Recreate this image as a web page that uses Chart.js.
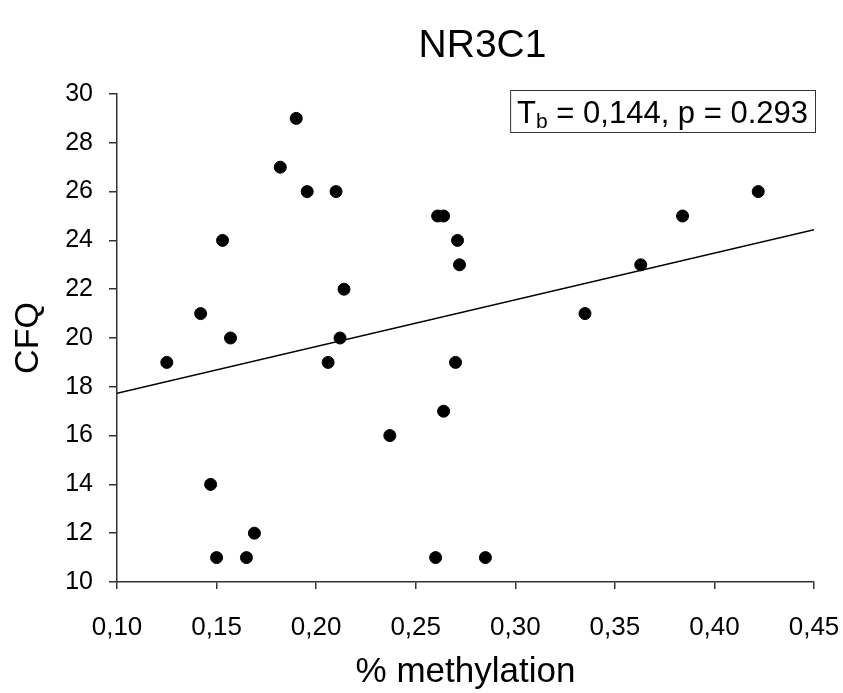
<!DOCTYPE html>
<html>
<head>
<meta charset="utf-8">
<script src="https://cdn.jsdelivr.net/npm/chart.js@4.4.1/dist/chart.umd.min.js"></script>
<style>
  html, body { margin: 0; padding: 0; background: #fff; }
  #wrap { width: 843px; height: 693px; position: relative; }
</style>
</head>
<body>
<div id="wrap"><canvas id="chart"></canvas></div>
<script>
// values
const methylation = [0.190, 0.182, 0.1955, 0.210, 0.261, 0.264, 0.153, 0.271, 0.272, 0.214,
                     0.142, 0.157, 0.212, 0.422, 0.384, 0.363, 0.335, 0.125, 0.206, 0.270,
                     0.264, 0.237, 0.147, 0.169, 0.150, 0.165, 0.260, 0.285];
const cfq = [29, 27, 26, 26, 25, 25, 24, 24, 23, 22,
             21, 20, 20, 26, 25, 23, 21, 19, 19, 19,
             17, 16, 14, 12, 11, 11, 11, 11];

// fitted line end points
const trendX = [0.10, 0.45];
const trendY = [17.73, 24.44];

const chartTitle = 'NR3C1';
const xTitle = '% methylation';
const yTitle = 'CFQ';
const statText = ['T', 'b', ' = 0,144, p = 0.293'];

const FONT = '"Liberation Sans", Arial, sans-serif';

const points = methylation.map((x, i) => ({ x: x, y: cfq[i] }));
const trend = trendX.map((x, i) => ({ x: x, y: trendY[i] }));

// title and stats box drawn by hand
const extras = {
  id: 'extras',
  afterDraw(chart) {
    const ctx = chart.ctx;
    const area = chart.chartArea;
    ctx.save();
    ctx.fillStyle = '#000';
    ctx.textBaseline = 'alphabetic';

    // title
    ctx.font = '39px ' + FONT;
    ctx.textAlign = 'center';
    ctx.fillText(chartTitle, (area.left + area.right) / 2 + 17, 57);

    // stats box
    ctx.textAlign = 'left';
    const big = '31px ' + FONT;
    const small = '21px ' + FONT;
    ctx.font = big;
    const w1 = ctx.measureText(statText[0]).width;
    const w3 = ctx.measureText(statText[2]).width;
    ctx.font = small;
    const w2 = ctx.measureText(statText[1]).width;
    const padX = 7;
    const boxW = w1 + w2 + w3 + padX * 2;
    const boxR = area.right + 1;
    const boxL = boxR - boxW;
    const boxT = 90, boxH = 42;
    ctx.fillStyle = '#fff';
    ctx.fillRect(boxL, boxT, boxW, boxH);
    ctx.strokeStyle = '#333';
    ctx.lineWidth = 1;
    ctx.strokeRect(boxL + 0.5, boxT + 0.5, boxW, boxH);
    ctx.fillStyle = '#000';
    const base = boxT + 33;
    ctx.font = big;
    ctx.fillText(statText[0], boxL + padX, base);
    ctx.font = small;
    ctx.fillText(statText[1], boxL + padX + w1, base + 5);
    ctx.font = big;
    ctx.fillText(statText[2], boxL + padX + w1 + w2, base);
    ctx.restore();
  }
};

new Chart(document.getElementById('chart'), {
  type: 'scatter',
  data: {
    datasets: [
      {
        label: 'CFQ',
        data: points,
        backgroundColor: '#000',
        borderColor: '#000',
        pointRadius: 6,
        pointHoverRadius: 6
      },
      {
        label: 'trend',
        data: trend,
        showLine: true,
        borderColor: '#000',
        borderWidth: 1.5,
        pointRadius: 0,
        fill: false
      }
    ]
  },
  options: {
    responsive: true,
    maintainAspectRatio: false,
    animation: false,
    layout: { padding: { top: 94, right: 29, left: 0, bottom: 0 } },
    plugins: {
      legend: { display: false },
      tooltip: { enabled: false },
      title: { display: false }
    },
    scales: {
      x: {
        type: 'linear',
        min: 0.10,
        max: 0.45,
        afterFit(scale) {
          scale.height = 111;
          scale.paddingRight = 0;
          scale.paddingLeft = 0;
        },
        ticks: {
          stepSize: 0.05,
          color: '#000',
          padding: 23,
          font: { family: FONT, size: 26 },
          callback: v => v.toFixed(2).replace('.', ',')
        },
        grid: { drawOnChartArea: false, drawTicks: true, tickLength: 7, color: '#333', lineWidth: 1.5 },
        border: { display: true, color: '#333', width: 1.5 },
        title: {
          display: true,
          text: xTitle,
          color: '#000',
          font: { family: FONT, size: 35 },
          padding: { top: 0, bottom: 0 }
        }
      },
      y: {
        type: 'linear',
        min: 10,
        max: 30,
        afterFit(scale) { scale.width = 117; },
        ticks: {
          stepSize: 2,
          color: '#000',
          padding: 16,
          font: { family: FONT, size: 25 }
        },
        grid: { drawOnChartArea: false, drawTicks: true, tickLength: 8, color: '#333', lineWidth: 1.5 },
        border: { display: true, color: '#333', width: 1.5 },
        title: {
          display: true,
          text: yTitle,
          color: '#000',
          font: { family: FONT, size: 34 },
          padding: { top: 8, bottom: 0 }
        }
      }
    }
  },
  plugins: [extras]
});
</script>
</body>
</html>
